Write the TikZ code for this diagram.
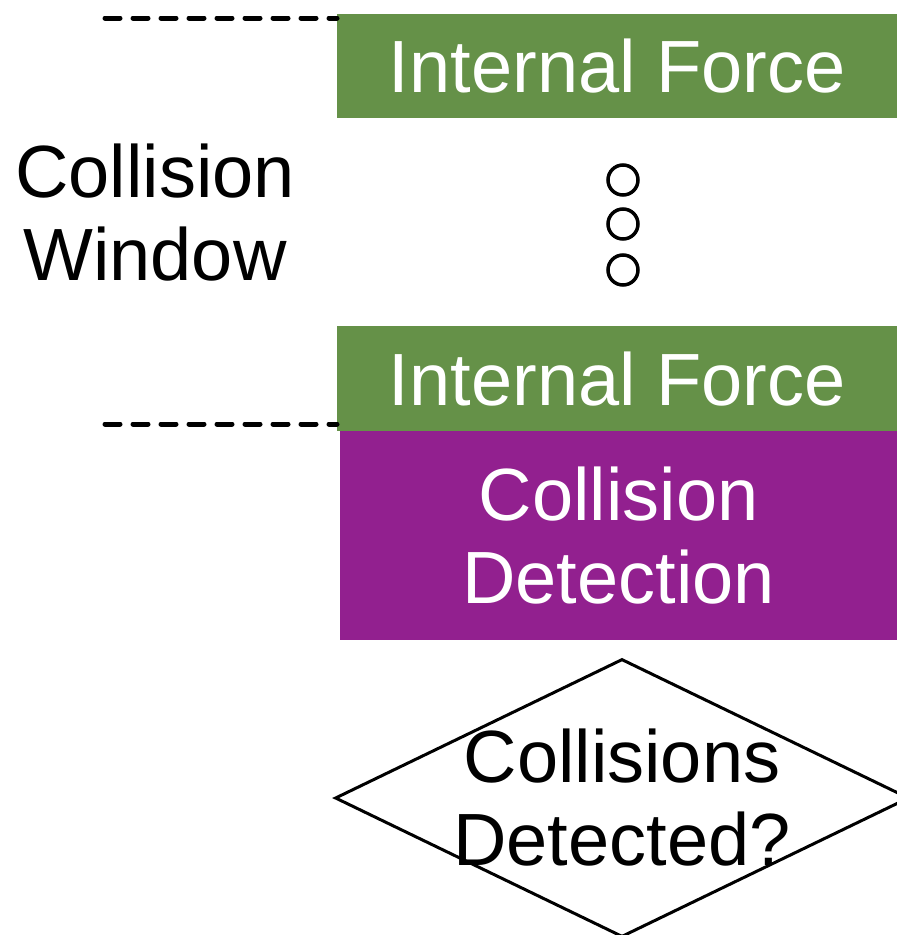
\documentclass[tikz,border=0pt]{standalone}
\usepackage{fontspec}
\setmainfont{Liberation Sans}
\usetikzlibrary{positioning, shapes.geometric}
\definecolor{forcegreen}{RGB}{101,145,72}
\definecolor{detpurple}{RGB}{146,32,143}

\begin{document}
\begin{tikzpicture}[
    x=1pt, y=-1pt,
    every node/.style={font=\fontsize{74}{83}\selectfont},
    blk/.style={inner sep=0pt, minimum width=560pt, anchor=north west, align=center, text=white},
    dots/.style={circle, draw, line width=3.5pt, minimum size=30pt, inner sep=0pt},
    dl/.style={line width=5pt, line cap=round, dash pattern=on 15pt off 13pt},
    dec/.style={diamond, draw, line width=3pt, minimum width=574pt, minimum height=278pt, inner sep=0pt}
]
\useasboundingbox (0,0) rectangle (897,935);
\node[blk, fill=forcegreen, minimum height=104pt] (force1) at (337,14) {Internal Force};
\node[blk, fill=forcegreen, minimum height=105pt] (force2) at (337,326) {Internal Force};
\node[blk, fill=detpurple, minimum height=209pt, minimum width=557pt] (detect) at (340,431) {Collision\\Detection};
\foreach \yy [count=\i] in {180,224,270}
  \node[dots] (dot\i) at (623,\yy) {};
\node[align=center] (window) at (155,213) {Collision\\Window};
\coordinate (winTop) at (105,18);
\coordinate (winBot) at (105,424);
\draw[dl] (winTop) -- (force1.west |- winTop);
\draw[dl] (winBot) -- (force2.west |- winBot);
\node[dec] (check) at (622,798) {};
\node[align=center] (checktxt) at (check.center) {Collisions\\Detected?};
\end{tikzpicture}
\end{document}
